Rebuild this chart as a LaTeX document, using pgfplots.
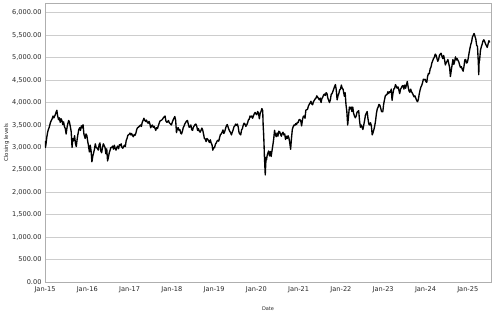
\documentclass[border=0pt]{standalone}
\usepackage{pgfplots}
\pgfplotsset{compat=1.18}
\usepackage{fontspec}
\setmainfont{DejaVu Sans}
\definecolor{axgray}{RGB}{175,175,175}
\definecolor{grgray}{RGB}{205,205,205}
\definecolor{txt}{RGB}{40,40,40}
\begin{document}
\begin{tikzpicture}
\begin{axis}[name=ax,
  scale only axis, width=446pt, height=279pt,
  xmin=2015, xmax=2025.55, ymin=0, ymax=6220,
  axis line style={axgray, line width=0.8pt},
  ymajorgrids, grid style={grgray, line width=0.8pt},
  major tick length=0pt,
  xtick={2015,2016,2017,2018,2019,2020,2021,2022,2023,2024,2025},
  xticklabels={Jan-15,Jan-16,Jan-17,Jan-18,Jan-19,Jan-20,Jan-21,Jan-22,Jan-23,Jan-24,Jan-25},
  ytick={0,500,1000,1500,2000,2500,3000,3500,4000,4500,5000,5500,6000},
  yticklabel style={/pgf/number format/fixed, /pgf/number format/fixed zerofill, /pgf/number format/precision=2, /pgf/number format/1000 sep={,}, /pgf/number format/assume math mode=true},
  scaled y ticks=false,
  tick label style={font=\fontsize{6.6}{7}\selectfont, text=txt},
  xticklabel style={yshift=-1pt},
  xlabel={Date}, ylabel={Closing levels},
  xlabel style={font=\fontsize{5}{6}\selectfont, text=txt, yshift=-7pt},
  ylabel style={font=\fontsize{5.5}{6}\selectfont, text=txt, yshift=-4pt},
]
\addplot[black, line width=1.35pt, line join=round] table {
2015.00 3140
2015.01 3000
2015.02 3050
2015.04 3210
2015.06 3330
2015.08 3400
2015.10 3450
2015.13 3560
2015.15 3600
2015.17 3640
2015.19 3700
2015.21 3660
2015.24 3720
2015.26 3780
2015.28 3828
2015.30 3700
2015.32 3620
2015.34 3660
2015.36 3560
2015.38 3640
2015.40 3600
2015.42 3510
2015.44 3570
2015.46 3460
2015.48 3420
2015.50 3300
2015.52 3440
2015.54 3530
2015.56 3600
2015.58 3560
2015.60 3460
2015.62 3350
2015.64 3000
2015.66 3200
2015.68 3150
2015.70 3260
2015.72 3090
2015.74 3020
2015.76 3180
2015.78 3300
2015.80 3400
2015.82 3440
2015.84 3380
2015.86 3480
2015.88 3440
2015.90 3506
2015.92 3300
2015.95 3200
2015.97 3300
2015.99 3268
2016.01 3140
2016.03 3030
2016.05 2900
2016.07 3050
2016.09 2920
2016.11 2680
2016.13 2800
2016.15 2880
2016.17 2960
2016.19 3080
2016.21 3000
2016.24 2980
2016.26 2940
2016.28 3060
2016.30 3100
2016.32 2920
2016.34 2880
2016.36 3000
2016.38 3080
2016.40 3040
2016.42 3000
2016.44 2860
2016.46 2970
2016.48 2700
2016.50 2780
2016.52 2880
2016.54 2940
2016.56 3000
2016.58 3000
2016.60 3030
2016.62 2960
2016.64 3050
2016.66 2980
2016.68 2940
2016.70 3000
2016.72 3030
2016.74 2970
2016.76 3060
2016.78 3040
2016.80 3080
2016.82 3000
2016.84 2980
2016.86 3020
2016.88 3050
2016.90 3020
2016.92 3150
2016.94 3200
2016.96 3270
2016.99 3290
2017.01 3320
2017.03 3280
2017.05 3310
2017.07 3260
2017.09 3240
2017.11 3290
2017.13 3270
2017.15 3320
2017.17 3400
2017.19 3440
2017.21 3450
2017.24 3480
2017.26 3500
2017.28 3470
2017.30 3560
2017.32 3600
2017.34 3650
2017.36 3600
2017.38 3580
2017.40 3610
2017.42 3560
2017.44 3540
2017.46 3580
2017.48 3530
2017.50 3440
2017.52 3480
2017.54 3500
2017.56 3450
2017.58 3470
2017.60 3430
2017.62 3380
2017.64 3440
2017.66 3420
2017.68 3480
2017.70 3540
2017.72 3590
2017.74 3600
2017.76 3610
2017.78 3630
2017.80 3660
2017.82 3680
2017.84 3700
2017.86 3590
2017.88 3560
2017.90 3570
2017.92 3600
2017.94 3550
2017.97 3520
2017.99 3500
2018.01 3560
2018.03 3610
2018.05 3650
2018.07 3690
2018.09 3610
2018.11 3330
2018.13 3420
2018.15 3440
2018.17 3380
2018.19 3400
2018.21 3320
2018.23 3300
2018.25 3360
2018.27 3440
2018.29 3480
2018.31 3530
2018.33 3560
2018.35 3590
2018.37 3600
2018.39 3520
2018.41 3450
2018.43 3460
2018.45 3500
2018.47 3400
2018.49 3380
2018.51 3450
2018.53 3480
2018.55 3510
2018.57 3520
2018.59 3470
2018.61 3380
2018.63 3420
2018.65 3360
2018.67 3340
2018.69 3380
2018.71 3430
2018.73 3390
2018.75 3300
2018.77 3200
2018.79 3190
2018.81 3130
2018.83 3200
2018.85 3180
2018.87 3150
2018.89 3110
2018.91 3170
2018.93 3100
2018.95 3060
2018.97 2940
2018.99 3000
2019.01 2990
2019.03 3070
2019.05 3100
2019.07 3140
2019.09 3160
2019.11 3140
2019.13 3220
2019.15 3290
2019.17 3300
2019.19 3340
2019.21 3390
2019.23 3310
2019.25 3350
2019.27 3420
2019.29 3480
2019.31 3510
2019.33 3460
2019.35 3400
2019.37 3360
2019.39 3330
2019.41 3280
2019.43 3340
2019.45 3390
2019.47 3460
2019.49 3480
2019.51 3520
2019.53 3490
2019.55 3520
2019.57 3460
2019.59 3330
2019.61 3300
2019.63 3280
2019.65 3390
2019.67 3420
2019.69 3500
2019.71 3540
2019.73 3520
2019.75 3470
2019.77 3500
2019.79 3540
2019.81 3610
2019.83 3630
2019.85 3700
2019.87 3680
2019.89 3700
2019.91 3650
2019.93 3700
2019.95 3750
2019.97 3780
2019.99 3745
2020.01 3730
2020.03 3800
2020.05 3770
2020.07 3640
2020.09 3760
2020.11 3800
2020.13 3865
2020.15 3820
2020.16 3500
2020.17 3330
2020.18 3100
2020.19 2800
2020.20 2600
2020.21 2385
2020.22 2600
2020.23 2780
2020.24 2720
2020.25 2790
2020.26 2840
2020.27 2870
2020.29 2920
2020.31 2810
2020.33 2910
2020.35 2800
2020.37 2930
2020.39 3050
2020.41 3190
2020.43 3380
2020.45 3280
2020.47 3240
2020.49 3320
2020.51 3250
2020.53 3360
2020.55 3350
2020.57 3300
2020.59 3250
2020.61 3310
2020.63 3340
2020.65 3280
2020.67 3300
2020.69 3180
2020.71 3250
2020.73 3200
2020.75 3260
2020.77 3210
2020.79 3100
2020.81 2960
2020.83 3200
2020.85 3400
2020.87 3460
2020.89 3500
2020.91 3490
2020.93 3530
2020.95 3510
2020.97 3560
2020.99 3553
2021.01 3620
2021.03 3620
2021.05 3590
2021.07 3480
2021.09 3620
2021.11 3690
2021.13 3700
2021.15 3650
2021.17 3830
2021.19 3840
2021.21 3850
2021.23 3920
2021.25 3960
2021.27 3990
2021.29 4030
2021.31 3970
2021.33 3950
2021.35 4020
2021.37 4050
2021.39 4080
2021.41 4100
2021.43 4150
2021.45 4120
2021.47 4090
2021.49 4060
2021.51 4100
2021.53 4000
2021.55 4090
2021.57 4120
2021.59 4170
2021.61 4190
2021.63 4160
2021.65 4220
2021.67 4200
2021.69 4100
2021.71 4050
2021.73 4000
2021.75 4060
2021.77 4180
2021.79 4200
2021.81 4250
2021.83 4300
2021.85 4360
2021.87 4400
2021.89 4280
2021.91 4060
2021.93 4150
2021.95 4200
2021.97 4280
2021.99 4298
2022.01 4390
2022.03 4320
2022.05 4300
2022.07 4200
2022.08 4140
2022.10 4220
2022.12 3950
2022.14 3800
2022.16 3500
2022.18 3700
2022.20 3900
2022.22 3860
2022.24 3900
2022.26 3800
2022.28 3900
2022.30 3760
2022.32 3700
2022.34 3660
2022.36 3700
2022.38 3780
2022.40 3800
2022.42 3820
2022.44 3600
2022.46 3450
2022.48 3500
2022.50 3450
2022.52 3400
2022.54 3500
2022.56 3600
2022.58 3720
2022.60 3760
2022.62 3800
2022.64 3640
2022.66 3520
2022.68 3500
2022.70 3550
2022.72 3480
2022.74 3280
2022.76 3330
2022.78 3400
2022.80 3480
2022.82 3600
2022.84 3760
2022.86 3860
2022.88 3900
2022.90 3960
2022.92 3940
2022.94 3880
2022.96 3800
2022.99 3794
2023.01 3960
2023.03 4060
2023.05 4150
2023.07 4170
2023.09 4180
2023.11 4240
2023.13 4200
2023.15 4240
2023.17 4230
2023.19 4300
2023.21 4050
2023.23 4200
2023.25 4300
2023.27 4320
2023.29 4400
2023.31 4360
2023.33 4320
2023.35 4350
2023.37 4280
2023.39 4200
2023.41 4300
2023.43 4330
2023.45 4370
2023.47 4380
2023.49 4300
2023.51 4390
2023.53 4320
2023.55 4400
2023.57 4470
2023.59 4350
2023.61 4260
2023.63 4230
2023.65 4300
2023.67 4240
2023.69 4210
2023.71 4170
2023.73 4130
2023.75 4150
2023.77 4100
2023.79 4050
2023.81 4020
2023.83 4060
2023.85 4180
2023.87 4270
2023.89 4340
2023.91 4380
2023.93 4440
2023.95 4520
2023.97 4510
2023.99 4520
2024.01 4470
2024.03 4450
2024.05 4580
2024.07 4650
2024.09 4640
2024.11 4750
2024.13 4790
2024.15 4880
2024.17 4930
2024.19 4980
2024.21 5010
2024.23 5080
2024.25 5060
2024.27 4990
2024.29 4920
2024.31 4960
2024.33 5050
2024.35 5080
2024.37 5100
2024.39 5030
2024.41 4980
2024.43 5050
2024.45 4960
2024.47 4840
2024.49 4890
2024.51 4920
2024.53 4960
2024.55 4870
2024.57 4790
2024.59 4580
2024.61 4720
2024.63 4840
2024.65 4960
2024.67 4850
2024.69 4920
2024.71 5020
2024.73 4950
2024.75 4980
2024.77 4940
2024.79 4900
2024.81 4830
2024.83 4780
2024.85 4800
2024.87 4740
2024.89 4700
2024.91 4800
2024.93 4950
2024.95 4960
2024.97 4880
2024.99 4896
2025.01 4980
2025.03 5100
2025.05 5200
2025.07 5290
2025.09 5350
2025.11 5460
2025.13 5500
2025.15 5540
2025.17 5480
2025.19 5420
2025.21 5280
2025.23 5250
2025.25 4900
2025.26 4620
2025.27 4950
2025.28 4940
2025.30 5160
2025.32 5240
2025.34 5300
2025.36 5370
2025.38 5400
2025.40 5360
2025.42 5310
2025.44 5270
2025.46 5230
2025.48 5300
2025.50 5380
2025.52 5340
};
\end{axis}
\pgfresetboundingbox
\path ([xshift=-45pt,yshift=-38pt]ax.south west) rectangle ([xshift=12pt,yshift=3pt]ax.north east);
\end{tikzpicture}
\end{document}
